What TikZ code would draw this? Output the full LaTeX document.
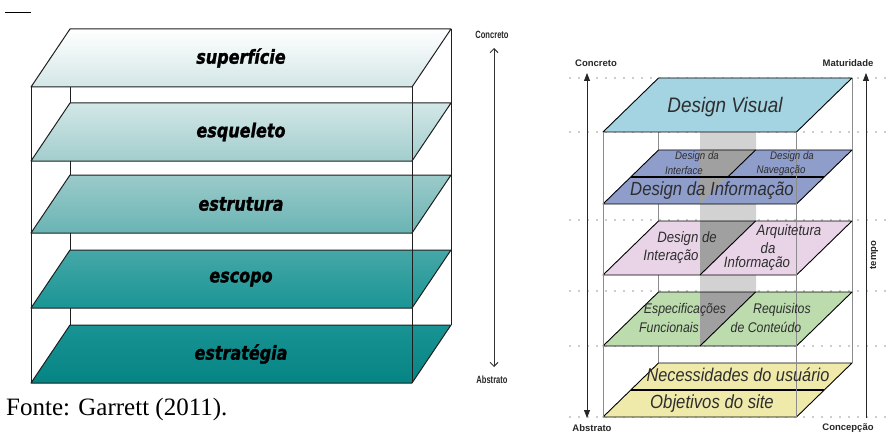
\documentclass[tikz,border=0pt]{standalone}
\usepackage{fontspec}
\usepackage{graphicx}
\setmainfont{Liberation Serif}
\newfontfamily\heavyfont{DejaVu Sans}[BoldItalicFeatures={FakeBold=1.6}]
\newfontfamily\labfont{Liberation Sans}
\usetikzlibrary{arrows.meta}
\newcommand\sqz[2][0.88]{\scalebox{#1}[1]{#2}}
\newcommand\lplane[5]{%
  \shade[top color=#2,bottom color=#3] (31,#1) -- (412,#1) -- (451,#1-58) -- (70,#1-58) -- cycle;
  \draw[lbox] (31,#1) -- (412,#1) -- (451,#1-58) -- (70,#1-58) -- cycle;
  \node[ltext] (#5) at (241,#1-29) {\scalebox{1}[1.2]{#4}};
}
\newcommand\rplane[2]{%
  \fill[#2] (603,#1) -- (796.5,#1) -- (852,#1-54) -- (658.5,#1-54) -- cycle;
}
\newcommand\rframe[1]{%
  \draw[rbox] (603,#1) -- (796.5,#1) -- (852,#1-54) -- (658.5,#1-54) -- cycle;
}
\definecolor{vis}{HTML}{A4D4E2}
\definecolor{inf}{HTML}{8F9DCB}
\definecolor{pnk}{HTML}{E9D4E7}
\definecolor{grn}{HTML}{BCDCAE}
\definecolor{ylw}{HTML}{EFEAAA}
\definecolor{wall}{HTML}{D2D2D2}
\definecolor{wdark}{HTML}{A0A0A0}
\definecolor{pa}{HTML}{D3E6E6}
\definecolor{pb}{HTML}{D3E7E7}
\definecolor{pc}{HTML}{A2CDCD}
\definecolor{pd}{HTML}{9CCACA}
\definecolor{pe}{HTML}{6AB4B4}
\definecolor{pf}{HTML}{46A7A7}
\definecolor{pg}{HTML}{1A9595}
\definecolor{ph}{HTML}{199393}
\definecolor{pi}{HTML}{068484}
\begin{document}
\begin{tikzpicture}[x=1pt,y=-1pt,
  lbox/.style={draw=black!88, line width=1pt, line join=round},
  ltext/.style={font=\heavyfont\bfseries\itshape\fontsize{16}{16}\selectfont, inner sep=0},
  rbox/.style={draw=black, line width=0.9pt, line join=round},
  vline/.style={draw=black!45, line width=0.8pt},
  dotline/.style={draw=black!40, line width=1.6pt, dash pattern=on 0pt off 9pt, line cap=round},
  rtxt/.style={font=\labfont\itshape, text=black!82, inner sep=0},
  rlab/.style={font=\labfont\bfseries\fontsize{9.5}{10}\selectfont, text=black!85, inner sep=0},
  llab/.style={font=\labfont\bfseries\fontsize{10.5}{11}\selectfont, text=black!85, inner sep=0},
]
\useasboundingbox (0,0) rectangle (886,433);

% ---------- left diagram ----------
\draw[black, line width=0.8pt] (5,12) -- (31,12);
\draw[lbox] (70,29) -- (70,325);
\draw[lbox] (451,29) -- (451,325);
\lplane{87}{white}{pa}{superfície}{l1}
\lplane{161}{pb}{pc}{esqueleto}{l2}
\lplane{233}{pd}{pe}{estrutura}{l3}
\lplane{308}{pf}{pg}{escopo}{l4}
\lplane{383}{ph}{pi}{estratégia}{l5}
\draw[lbox] (31,87) -- (31,383);
\draw[lbox] (412,87) -- (412,383);

\coordinate (lt) at (494,48);
\coordinate (lb) at (494,367);
\draw[{Straight Barb[length=4pt,width=8pt]}-{Straight Barb[length=4pt,width=8pt]}, black!80, line width=1pt] (lt) -- (lb);
\node[llab] (lconc) at (492,35) {\sqz[0.72]{Concreto}};
\node[llab] (labs) at (492,380) {\sqz[0.72]{Abstrato}};

\node[anchor=base west, font=\fontsize{25}{25}\selectfont, inner sep=0] (cap) at (6,415) {Fonte: Garrett (2011).};

% ---------- right diagram ----------
\foreach \yy in {78,132,220,291,346,417} {\draw[dotline] (570,\yy) -- (886,\yy);}

\coordinate (ra1) at (587,73);
\coordinate (ra2) at (587,418);
\coordinate (rb1) at (866,73);
\coordinate (rb2) at (866,418);
\draw[{Triangle[length=8pt,width=6pt]}-{Triangle[length=8pt,width=6pt]}, black!85, line width=0.8pt] (ra1) -- (ra2);
\draw[-{Triangle[length=8pt,width=6pt]}, black!85, line width=0.8pt] (rb2) -- (rb1);

% wall and back edges
\fill[wall] (700,132) -- (756,78) -- (756,292) -- (700,346) -- cycle;
\draw[vline] (658.5,132) -- (658.5,363);
\draw[vline] (852,78) -- (852,363);

% planes
\rplane{132}{vis}\rframe{132}
\rplane{204}{inf}
\fill[wdark] (700,150) -- (755.5,150) -- (700,204) -- cycle;
\rframe{204}
\draw[rbox, line width=1.6pt] (630.75,177) -- (824.25,177);
\draw[rbox] (755.5,150) -- (727.75,177);
\rplane{275}{pnk}
\fill[wdark] (700,221) -- (755.5,221) -- (700,275) -- cycle;
\rframe{275}
\draw[rbox] (755.5,221) -- (700,275);
\rplane{346}{grn}
\fill[wdark] (700,292) -- (755.5,292) -- (700,346) -- cycle;
\rframe{346}
\draw[rbox] (755.5,292) -- (700,346);
\rplane{417}{ylw}\rframe{417}
\draw[rbox, line width=1.6pt] (630.75,390) -- (824.25,390);

% front edges
\draw[vline] (603,132) -- (603,417);
\draw[vline] (796.5,132) -- (796.5,417);

% texts in planes
\node[rtxt, font=\labfont\itshape\fontsize{21}{21}\selectfont] (dv) at (725,107) {\sqz[0.9]{Design Visual}};
\node[rtxt, font=\labfont\itshape\fontsize{11}{11}\selectfont] (di1) at (697,157) {\sqz{Design da}};
\node[rtxt, font=\labfont\itshape\fontsize{11}{11}\selectfont] (di2) at (684,171) {\sqz{Interface}};
\node[rtxt, font=\labfont\itshape\fontsize{11}{11}\selectfont] (dn1) at (792,157) {\sqz{Design da}};
\node[rtxt, font=\labfont\itshape\fontsize{11}{11}\selectfont] (dn2) at (781,171) {\sqz{Navegação}};
\node[rtxt, font=\labfont\itshape\fontsize{19}{19}\selectfont] (dinf) at (712,191) {\sqz{Design da Informação}};
\node[rtxt, font=\labfont\itshape\fontsize{15}{15}\selectfont] (dd1) at (687,239) {\sqz{Design de}};
\node[rtxt, font=\labfont\itshape\fontsize{15}{15}\selectfont] (dd2) at (671,257) {\sqz{Interação}};
\node[rtxt, font=\labfont\itshape\fontsize{15}{15}\selectfont] (ai1) at (789,232) {\sqz{Arquitetura}};
\node[rtxt, font=\labfont\itshape\fontsize{15}{15}\selectfont] (ai2) at (768,248) {\sqz{da}};
\node[rtxt, font=\labfont\itshape\fontsize{15}{15}\selectfont] (ai3) at (757,264) {\sqz{Informação}};
\node[rtxt, font=\labfont\itshape\fontsize{14}{14}\selectfont] (ef1) at (685,310) {\sqz{Especificações}};
\node[rtxt, font=\labfont\itshape\fontsize{14}{14}\selectfont] (ef2) at (669,327) {\sqz{Funcionais}};
\node[rtxt, font=\labfont\itshape\fontsize{14}{14}\selectfont] (rc1) at (782,310) {\sqz{Requisitos}};
\node[rtxt, font=\labfont\itshape\fontsize{14}{14}\selectfont] (rc2) at (766,327) {\sqz{de Conteúdo}};
\node[rtxt, font=\labfont\itshape\fontsize{18.5}{18.5}\selectfont] (nu) at (738,375) {\sqz{Necessidades do usuário}};
\node[rtxt, font=\labfont\itshape\fontsize{19}{19}\selectfont] (os) at (712,404) {\sqz{Objetivos do site}};

% axis labels
\node[rlab] (rconc) at (596,63) {Concreto};
\node[rlab] (rmat) at (848,63) {Maturidade};
\node[rlab] (rabs) at (592,428) {Abstrato};
\node[rlab] (rcon) at (848,428) {Concepção};
\node[rlab, rotate=90] (rtem) at (874,255) {tempo};
\end{tikzpicture}
\end{document}
